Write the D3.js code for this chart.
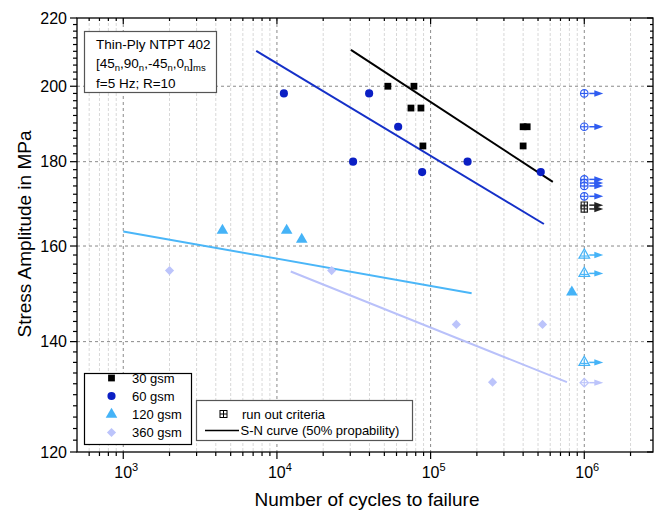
<!DOCTYPE html>
<html><head><meta charset="utf-8">
<script src="https://cdn.jsdelivr.net/npm/d3@7"></script>
<style>
body{margin:0;background:#fff;}
text{font-family:"Liberation Sans",Arial,sans-serif;}
</style></head>
<body><svg id="c" width="664" height="513"></svg>
<script>
// ---- data ----
const n30 = [52700, 77900, 74500, 86500, 400000, 425000, 89100, 400000];
const s30 = [200, 200, 194, 194, 189, 189, 184, 184];
const n60 = [11100, 39800, 61500, 31300, 174000, 88100, 521000];
const s60 = [198, 198, 189, 180, 180, 177.4, 177.4];
const n120 = [4420, 11570, 14500, 830000];
const s120 = [163.5, 163.5, 161.5, 150];
const n360 = [2000, 22700, 147000, 535000, 253000];
const s360 = [154.6, 154.6, 143.4, 143.4, 132.3];
const runoutN = 1e6;
const run30 = [169.4, 168.5];
const run60 = [198, 189, 175.6, 174.7, 174, 171.5];
const run120 = [158, 154, 136];
const run360 = [132.2];
const sn30 = [[30300, 210.4], [624000, 175]];
const sn60 = [[7330, 210.1], [546000, 165]];
const sn120 = [[1000, 163.3], [185000, 149.8]];
const sn360 = [[12300, 154.4], [771000, 132.3]];
const seriesNames = ["30 gsm", "60 gsm", "120 gsm", "360 gsm"];
const yTicks = [120, 140, 160, 180, 200, 220];
const xTicks = [1e3, 1e4, 1e5, 1e6];
const xTickExp = ["3", "4", "5", "6"];

const colors = ["#000000", "#0b1fc4", "#45b3f7", "#bcc4fb"];
const lineColors = ["#000000", "#1530c8", "#4ab6f8", "#b9c1fa"];
const runColors = ["#222222", "#2f5cf0", "#45b3f7", "#bcc4fb"];

const svg = d3.select("#c");
const L = 77, R = 653, T = 18, B = 452;
const x = d3.scaleLog().domain([500, 2.8e6]).range([L, R]);
const y = d3.scaleLog().domain([120, 220]).range([B, T]);

const xMinor = [];
for (let e = 2; e <= 6; e++) for (let m = 2; m <= 9; m++) {
  const v = m * Math.pow(10, e);
  if (v > 500 && v < 2.8e6) xMinor.push(v);
}
const yMinor = d3.range(122, 220, 2).filter(v => v % 20 !== 0);

// grid
const g = svg.append("g");
g.selectAll(".vmin").data(xMinor).enter().append("line")
  .attr("x1", d => x(d)).attr("x2", d => x(d)).attr("y1", T).attr("y2", B)
  .attr("stroke", "#d8d8d8").attr("stroke-width", 1).attr("stroke-dasharray", "3,2");
g.selectAll(".vmaj").data(xTicks).enter().append("line")
  .attr("x1", d => x(d)).attr("x2", d => x(d)).attr("y1", T).attr("y2", B)
  .attr("stroke", "#8a8a8a").attr("stroke-width", 1).attr("stroke-dasharray", "3,3");
g.selectAll(".hmaj").data(yTicks.slice(1, -1)).enter().append("line")
  .attr("y1", d => y(d)).attr("y2", d => y(d)).attr("x1", L).attr("x2", R)
  .attr("stroke", "#8a8a8a").attr("stroke-width", 1).attr("stroke-dasharray", "3,3");

// frame
svg.append("rect").attr("x", L).attr("y", T).attr("width", R - L).attr("height", B - T)
  .attr("fill", "none").attr("stroke", "#000").attr("stroke-width", 1.3);

// ticks
const tk = svg.append("g").attr("stroke", "#000").attr("stroke-width", 1.2);
xTicks.forEach(v => {
  tk.append("line").attr("x1", x(v)).attr("x2", x(v)).attr("y1", B).attr("y2", B + 7);
  tk.append("line").attr("x1", x(v)).attr("x2", x(v)).attr("y1", T).attr("y2", T + 6);
});
xMinor.forEach(v => {
  tk.append("line").attr("x1", x(v)).attr("x2", x(v)).attr("y1", B).attr("y2", B + 4);
  tk.append("line").attr("x1", x(v)).attr("x2", x(v)).attr("y1", T).attr("y2", T + 3);
});
yTicks.forEach(v => {
  tk.append("line").attr("y1", y(v)).attr("y2", y(v)).attr("x1", L - 7).attr("x2", L);
  tk.append("line").attr("y1", y(v)).attr("y2", y(v)).attr("x1", R - 6).attr("x2", R);
});
yMinor.forEach(v => {
  tk.append("line").attr("y1", y(v)).attr("y2", y(v)).attr("x1", L - 4).attr("x2", L);
  tk.append("line").attr("y1", y(v)).attr("y2", y(v)).attr("x1", R - 3).attr("x2", R);
});

// tick labels
svg.selectAll(".ylab").data(yTicks).enter().append("text")
  .attr("x", L - 10).attr("y", d => y(d)).attr("dy", "0.35em")
  .attr("text-anchor", "end").attr("font-size", 16).attr("fill", "#000").text(d => d);
xTicks.forEach((v, i) => {
  const t = svg.append("text").attr("x", x(v) + 3).attr("y", B + 26)
    .attr("text-anchor", "middle").attr("font-size", 16).attr("fill", "#000");
  t.append("tspan").text("10");
  t.append("tspan").attr("dy", -7).attr("font-size", 11).text(xTickExp[i]);
});

// axis titles
svg.append("text").attr("x", 367).attr("y", 506).attr("text-anchor", "middle")
  .attr("font-size", 19).text("Number of cycles to failure");
svg.append("text").attr("transform", "translate(31,234) rotate(-90)").attr("text-anchor", "middle")
  .attr("font-size", 19).text("Stress Amplitude in MPa");

// S-N lines
const line = d3.line().x(d => x(d[0])).y(d => y(d[1]));
[sn30, sn60, sn120, sn360].forEach((d, i) => {
  svg.append("path").attr("d", line(d)).attr("fill", "none")
    .attr("stroke", lineColors[i]).attr("stroke-width", 2);
});

// symbols
const symTypes = [d3.symbolSquare, d3.symbolCircle, d3.symbolTriangle, d3.symbolSquare];
const symSizes = [46, 52, 58, 42];
const symRot = [0, 0, 0, 45];
function sym(i, k) { return d3.symbol().type(symTypes[i]).size(symSizes[i] * (k || 1)); }

const data = [[n30, s30], [n60, s60], [n120, s120], [n360, s360]];
data.forEach(([ns, ss], i) => {
  svg.append("g").selectAll("path").data(ns.map((n, k) => [n, ss[k]])).enter().append("path")
    .attr("d", sym(i)())
    .attr("transform", d => `translate(${x(d[0])},${y(d[1])}) rotate(${symRot[i]})`)
    .attr("fill", colors[i]);
});

// run-outs
const runs = [run30, run60, run120, run360];
runs.forEach((arr, i) => {
  const gg = svg.append("g");
  arr.forEach(s => {
    const cx = x(runoutN), cy = y(s);
    gg.append("path").attr("d", sym(i, 0.85)())
      .attr("transform", `translate(${cx},${cy}) rotate(${symRot[i]})`)
      .attr("fill", "#ffffff").attr("fill-opacity", 0.6)
      .attr("stroke", runColors[i]).attr("stroke-width", 1.2);
    const h = i === 2 ? 4 : 3.5;
    const oy = i === 2 ? 1 : 0;
    gg.append("line").attr("x1", cx - h).attr("x2", cx + h).attr("y1", cy + oy).attr("y2", cy + oy)
      .attr("stroke", runColors[i]).attr("stroke-width", 1.1);
    gg.append("line").attr("x1", cx).attr("x2", cx).attr("y1", cy - h).attr("y2", cy + h)
      .attr("stroke", runColors[i]).attr("stroke-width", 1.1);
    gg.append("line").attr("x1", cx + 5).attr("x2", cx + 12).attr("y1", cy).attr("y2", cy)
      .attr("stroke", runColors[i]).attr("stroke-width", 1.5);
    gg.append("path").attr("d", `M${cx + 10},${cy - 3.2}L${cx + 19},${cy}L${cx + 10},${cy + 3.2}Z`)
      .attr("fill", runColors[i]);
  });
});

// annotation box
svg.append("rect").attr("x", 84.5).attr("y", 31.5).attr("width", 132).attr("height", 61)
  .attr("fill", "#fff").attr("stroke", "#555").attr("stroke-width", 1.2);
svg.append("text").attr("x", 96).attr("y", 49).attr("font-size", 13.5).text("Thin-Ply NTPT 402");
const lay = svg.append("text").attr("x", 96).attr("y", 68).attr("font-size", 13.5);
const layParts = [["[45", "n"], [",90", "n"], [",-45", "n"], [",0", "n"], ["]", "ms"]];
layParts.forEach(([a, b], k) => {
  lay.append("tspan").attr("dy", k === 0 ? 0 : -3).text(a);
  lay.append("tspan").attr("dy", 3).attr("font-size", 9.5).text(b);
});
svg.append("text").attr("x", 96).attr("y", 88).attr("font-size", 13.5).text("f=5 Hz; R=10");

// legend 1
svg.append("rect").attr("x", 84.5).attr("y", 373.5).attr("width", 107).attr("height", 71)
  .attr("fill", "#fff").attr("stroke", "#000").attr("stroke-width", 1.2);
const legY = [378, 396, 414.5, 432.5];
seriesNames.forEach((nm, i) => {
  svg.append("path").attr("d", sym(i)())
    .attr("transform", `translate(111.5,${legY[i]}) rotate(${symRot[i]})`).attr("fill", colors[i]);
  svg.append("text").attr("x", 132).attr("y", legY[i]).attr("dy", "0.36em")
    .attr("font-size", 13).text(nm);
});

// legend 2
svg.append("rect").attr("x", 196.5).attr("y", 400.5).attr("width", 216).attr("height", 40)
  .attr("fill", "#fff").attr("stroke", "#555").attr("stroke-width", 1.2);
{
  const cx = 223.5, cy = 414;
  svg.append("rect").attr("x", cx - 3.5).attr("y", cy - 3.5).attr("width", 7).attr("height", 7)
    .attr("fill", "#fff").attr("stroke", "#000").attr("stroke-width", 1);
  svg.append("line").attr("x1", cx - 3.5).attr("x2", cx + 3.5).attr("y1", cy).attr("y2", cy).attr("stroke", "#000");
  svg.append("line").attr("x1", cx).attr("x2", cx).attr("y1", cy - 3.5).attr("y2", cy + 3.5).attr("stroke", "#000");
}
svg.append("text").attr("x", 242).attr("y", 414).attr("dy", "0.36em").attr("font-size", 13).text("run out criteria");
svg.append("line").attr("x1", 205).attr("x2", 239).attr("y1", 430.5).attr("y2", 430.5)
  .attr("stroke", "#000").attr("stroke-width", 1.5);
svg.append("text").attr("x", 240.5).attr("y", 430.5).attr("dy", "0.36em").attr("font-size", 13)
  .text("S-N curve (50% propability)");
</script></body></html>
